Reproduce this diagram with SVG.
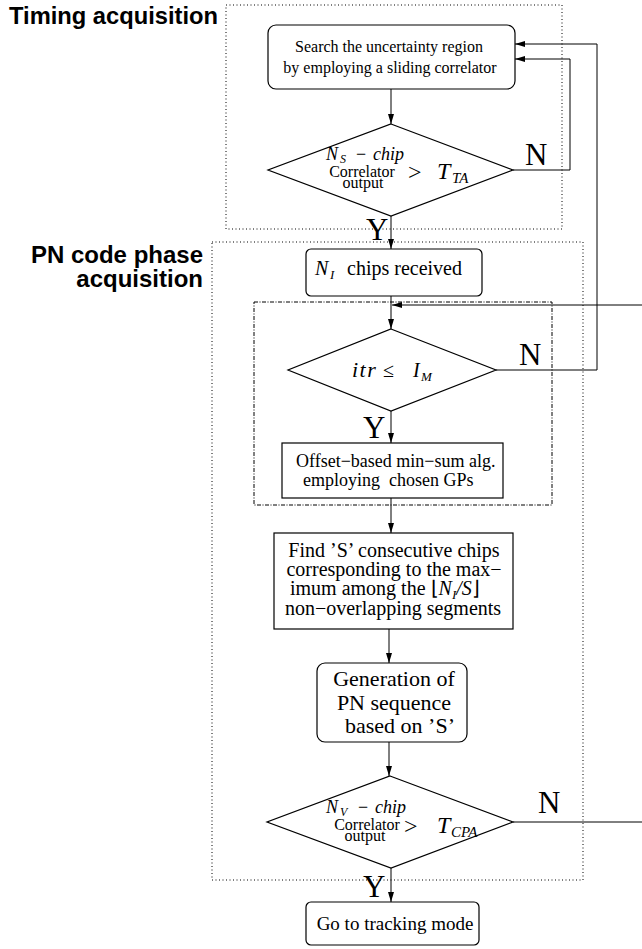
<svg xmlns="http://www.w3.org/2000/svg" width="642" height="949" viewBox="0 0 642 949">
<style>
.lbl{font-family:"Liberation Sans",Arial,sans-serif;font-weight:bold;font-size:24px;fill:#000}
.t{font-family:"Liberation Serif","Times New Roman",serif;fill:#000}
.i{font-style:italic}
.node{fill:#fff;stroke:#000;stroke-width:1.2}
.grp{fill:none;stroke:#000;stroke-width:1;stroke-dasharray:1,2.5}
.grp2{fill:none;stroke:#000;stroke-width:1;stroke-dasharray:4,1.5,1,1.5}
.c{fill:none;stroke:#000;stroke-width:1}
.yn{font-family:"Liberation Serif","Times New Roman",serif;font-size:31px;fill:#000}
</style>
<defs>
<marker id="ah" viewBox="0 0 10 6" refX="10" refY="3" markerWidth="10" markerHeight="6" markerUnits="userSpaceOnUse" orient="auto">
<path d="M0,0 L10,3 L0,6 Z" fill="#000"/>
</marker>
</defs>
<rect width="642" height="949" fill="#fff"/>

<g id="groups">
<rect class="grp" x="226" y="5" width="336" height="224"/>
<rect class="grp" x="212" y="242" width="371" height="638"/>
<rect class="grp2" x="254" y="302" width="298" height="203"/>
<text class="lbl" x="9" y="24" textLength="209" lengthAdjust="spacingAndGlyphs">Timing acquisition</text>
<text class="lbl" x="203" y="263" text-anchor="end">PN code phase</text>
<text class="lbl" x="203" y="287" text-anchor="end">acquisition</text>
</g>

<g id="connectors">
<line class="c" x1="391" y1="89" x2="391" y2="124" marker-end="url(#ah)"/>
<polyline class="c" points="513,170 570,170 570,59 515,59" marker-end="url(#ah)"/>
<line class="c" x1="391" y1="216" x2="391" y2="249" marker-end="url(#ah)"/>
<line class="c" x1="391" y1="296" x2="391" y2="329" marker-end="url(#ah)"/>
<line class="c" x1="642" y1="305" x2="392" y2="305" marker-end="url(#ah)"/>
<polyline class="c" points="496,370 597,370 597,44 515,44" marker-end="url(#ah)"/>
<line class="c" x1="391" y1="411" x2="391" y2="443" marker-end="url(#ah)"/>
<line class="c" x1="391" y1="498" x2="391" y2="533" marker-end="url(#ah)"/>
<line class="c" x1="389" y1="629" x2="389" y2="663" marker-end="url(#ah)"/>
<line class="c" x1="389" y1="742" x2="389" y2="776" marker-end="url(#ah)"/>
<line class="c" x1="513" y1="822" x2="642" y2="822"/>
<line class="c" x1="391" y1="868" x2="391" y2="902" marker-end="url(#ah)"/>
<text class="yn" x="525" y="165">N</text>
<text class="yn" x="366" y="240">Y</text>
<text class="yn" x="519" y="365">N</text>
<text class="yn" x="363" y="438">Y</text>
<text class="yn" x="538" y="813">N</text>
<text class="yn" x="363" y="897">Y</text>
</g>

<g id="search">
<rect class="node" x="268" y="25" width="247" height="64" rx="8"/>
<text class="t" font-size="16" x="389" y="52" text-anchor="middle">Search the uncertainty region</text>
<text class="t" font-size="16" x="390" y="73" text-anchor="middle">by employing a sliding correlator</text>
</g>

<g id="decision1">
<polygon class="node" points="391,124 513,170 391,216 268,170"/>
<text class="t" font-size="18" x="326" y="160"><tspan class="i">N</tspan><tspan class="i" font-size="12" x="340" dy="3">S</tspan><tspan x="356" dy="-3">−</tspan><tspan class="i" x="373">chip</tspan></text>
<text class="t" font-size="16" x="362" y="177" text-anchor="middle">Correlator<tspan x="363" dy="11">output</tspan></text>
<text class="t" font-size="24" x="408" y="180">&gt;<tspan class="i" x="437" dy="-1">T</tspan><tspan class="i" font-size="15" x="452" dy="4">TA</tspan></text>
</g>

<g id="received">
<rect class="node" x="306" y="249" width="176" height="47" rx="5"/>
<text class="t" font-size="20" x="315" y="275"><tspan class="i">N</tspan><tspan class="i" font-size="13" x="330" dy="4">I</tspan><tspan x="347" dy="-4">chips received</tspan></text>
</g>

<g id="decision2">
<polygon class="node" points="391,329 496,370 391,411 288,370"/>
<text class="t" font-size="20" x="352" y="377"><tspan class="i" font-size="22" letter-spacing="1.5">itr</tspan><tspan x="383">≤</tspan><tspan class="i" x="413">I</tspan><tspan class="i" font-size="13" x="421" dy="4">M</tspan></text>
</g>

<g id="offset">
<rect class="node" x="282" y="443" width="221" height="55"/>
<text class="t" font-size="18" x="296" y="467">Offset−based min−sum alg.</text>
<text class="t" font-size="18" x="303" y="486" xml:space="preserve">employing  chosen GPs</text>
</g>

<g id="find">
<rect class="node" x="274" y="533" width="239" height="96"/>
<text class="t" font-size="20" x="394" y="557" text-anchor="middle">Find ’S’ consecutive chips</text>
<text class="t" font-size="20" x="394" y="576" text-anchor="middle">corresponding to the max−</text>
<text class="t" font-size="20" x="290" y="595">imum among the <tspan>⌊</tspan><tspan class="i">N</tspan><tspan class="i" font-size="13" dy="4">I</tspan><tspan class="i" dy="-4">/S</tspan><tspan>⌋</tspan></text>
<text class="t" font-size="20" x="393" y="615" text-anchor="middle">non−overlapping segments</text>
</g>

<g id="generation">
<rect class="node" x="317" y="663" width="150" height="79" rx="8"/>
<text class="t" font-size="22" x="394" y="686" text-anchor="middle">Generation of</text>
<text class="t" font-size="22" x="394" y="710" text-anchor="middle">PN sequence</text>
<text class="t" font-size="22" x="400" y="733" text-anchor="middle">based on ’S’</text>
</g>

<g id="decision3">
<polygon class="node" points="390,776 513,822 391,868 267,822"/>
<text class="t" font-size="18" x="326" y="813"><tspan class="i">N</tspan><tspan class="i" font-size="12" x="340" dy="3">V</tspan><tspan x="358" dy="-3">−</tspan><tspan class="i" x="375">chip</tspan></text>
<text class="t" font-size="16" x="367" y="830" text-anchor="middle">Correlator<tspan x="365" dy="11">output</tspan></text>
<text class="t" font-size="24" x="404" y="834">&gt;<tspan class="i" x="437" dy="-1">T</tspan><tspan class="i" font-size="15" x="451" dy="4">CPA</tspan></text>
</g>

<g id="tracking">
<rect class="node" x="306" y="902" width="173" height="43" rx="5"/>
<text class="t" font-size="19" x="395" y="930" text-anchor="middle">Go to tracking mode</text>
</g>
</svg>
